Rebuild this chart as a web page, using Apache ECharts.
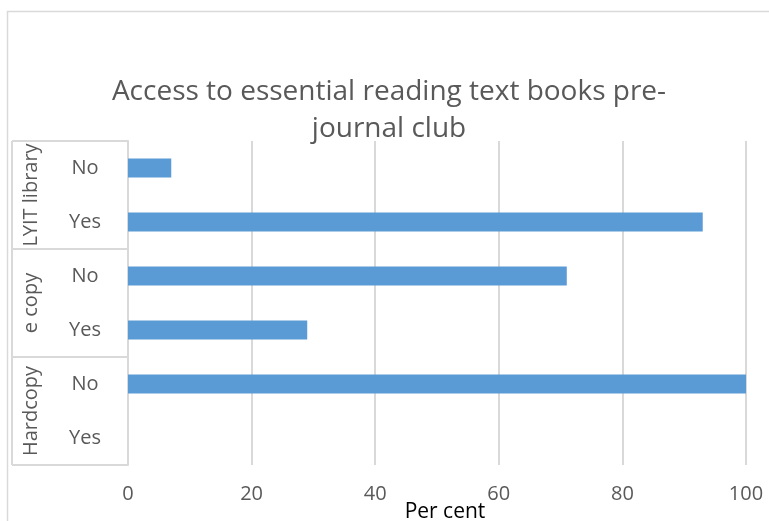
<!DOCTYPE html>
<html>
<head>
<meta charset="utf-8">
<script src="https://cdn.jsdelivr.net/npm/echarts@6/dist/echarts.min.js"></script>
<style>
html,body{margin:0;padding:0;background:#fff;}
#chart{width:769px;height:521px;}
</style>
</head>
<body>
<div id="chart"></div>
<script>
// Rows listed bottom to top: each group has a "Yes" and a "No" row
var groups = ['Hardcopy', 'e copy', 'LYIT library'];
var answers = ['Yes', 'No', 'Yes', 'No', 'Yes', 'No'];
var percent = [0, 100, 29, 71, 93, 7];
var xTicks = [0, 20, 40, 60, 80, 100];
var xTitle = 'Per cent';

var FONT = '"Open Sans", "Noto Sans", sans-serif';
var GREY = '#595959';
var LINE = '#d9d9d9';

var chart = echarts.init(document.getElementById('chart'));

chart.setOption({
  animation: false,
  title: {
    text: 'Access to essential reading text books pre-\njournal club',
    left: 384,
    top: 69,
    textAlign: 'center',
    textStyle: { fontFamily: FONT, fontSize: 28, fontWeight: 'normal', color: GREY, lineHeight: 37 }
  },
  grid: { left: 128, right: 23, top: 141, bottom: 56, containLabel: false, outerBoundsMode: 'none' },
  xAxis: {
    type: 'value',
    min: xTicks[0],
    max: xTicks[xTicks.length - 1],
    interval: 20,
    axisLine: { show: false },
    axisTick: { show: false },
    splitLine: { lineStyle: { color: LINE, width: 2 } },
    axisLabel: { fontFamily: FONT, fontSize: 20, color: GREY, margin: 19 }
  },
  yAxis: {
    type: 'category',
    data: answers.map(function (a, i) { return a + '|' + i; }),
    axisLine: { show: true, lineStyle: { color: LINE, width: 2 } },
    axisTick: { show: false },
    splitLine: { show: false },
    axisLabel: {
      fontFamily: FONT, fontSize: 20, color: GREY, align: 'center', margin: 43,
      formatter: function (v) { return v.split('|')[0]; }
    }
  },
  series: [{
    type: 'bar',
    data: percent,
    barWidth: 19,
    itemStyle: { color: '#5b9bd5' }
  }]
});

// Group box with rotated labels on the left of the category axis, plus the value-axis title
function drawDecorations() {
  var els = [];
  var x0 = chart.convertToPixel({ xAxisIndex: 0 }, xTicks[0]);
  var xMid = chart.convertToPixel({ xAxisIndex: 0 }, (xTicks[0] + xTicks[xTicks.length - 1]) / 2);
  var left = 12;
  var rowH = Math.abs(chart.convertToPixel({ yAxisIndex: 0 }, 0) - chart.convertToPixel({ yAxisIndex: 0 }, 1));
  var bottom = chart.convertToPixel({ yAxisIndex: 0 }, 0) + rowH / 2;
  // outer chart frame
  els.push({ type: 'rect', shape: { x: 7.5, y: 11.5, width: 900, height: 700 }, style: { fill: null, stroke: LINE, lineWidth: 1.5 }, silent: true });
  els.push({ type: 'line', shape: { x1: left, y1: bottom - rowH * 6, x2: left, y2: bottom }, style: { stroke: LINE, lineWidth: 2 } });
  for (var g = 0; g <= groups.length; g++) {
    var y = Math.round(bottom - g * rowH * 2);
    els.push({ type: 'line', shape: { x1: left, y1: y, x2: x0, y2: y }, style: { stroke: LINE, lineWidth: 2 } });
  }
  groups.forEach(function (name, g) {
    var cy = bottom - (g * 2 + 1) * rowH;
    els.push({
      type: 'text', x: 31, y: cy, rotation: Math.PI / 2,
      style: { text: name, font: '20px ' + FONT, fill: GREY, align: 'center', verticalAlign: 'middle' }
    });
  });
  els.push({
    type: 'text', x: xMid + 8, y: bottom + 47,
    style: { text: xTitle, font: '21px ' + FONT, fill: '#000', align: 'center', verticalAlign: 'middle' }
  });
  chart.setOption({ graphic: { elements: els } });
}
drawDecorations();
</script>
</body>
</html>
